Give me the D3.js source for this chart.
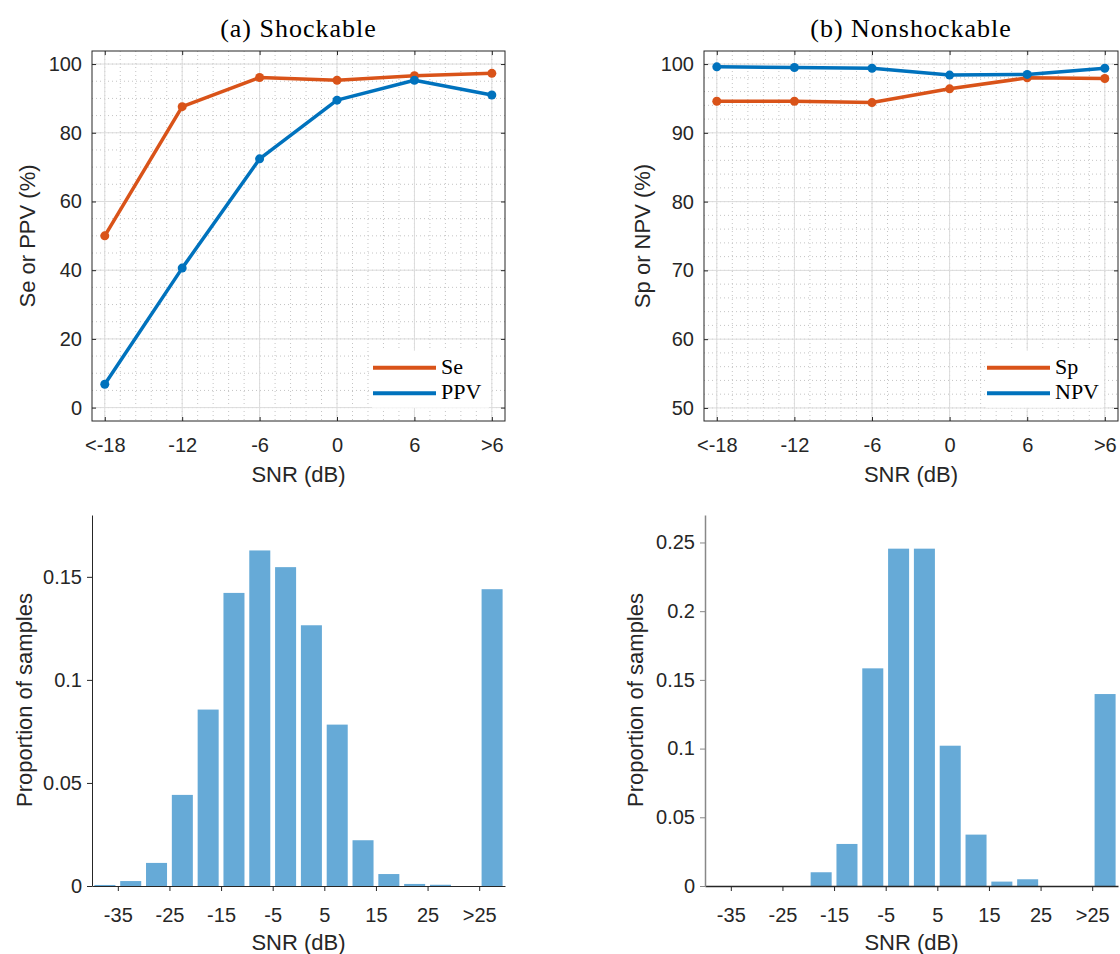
<!DOCTYPE html>
<html>
<head>
<meta charset="utf-8">
<script src="https://cdn.jsdelivr.net/npm/d3@7"></script>
<style>
  body { margin: 0; background: #fff; }
  svg { display: block; }
  .tick text { font-family: "Liberation Sans", Arial, sans-serif; font-size: 20px; fill: #262626; }
  .lbl { font-family: "Liberation Sans", Arial, sans-serif; font-size: 22px; fill: #262626; }
  .ttl, .leg { font-family: "Liberation Serif", "Times New Roman", serif; fill: #000; }
</style>
</head>
<body>
<svg width="1120" height="954"></svg>
<script>
// top row: performance vs SNR
const snrCats = ['<-18', '-12', '-6', '0', '6', '>6'];
const seVals = [50.0, 87.6, 96.1, 95.3, 96.6, 97.3];
const ppvVals = [6.8, 40.6, 72.4, 89.5, 95.3, 91.0];
const spVals = [94.6, 94.6, 94.4, 96.4, 98.0, 97.9];
const npvVals = [99.6, 99.5, 99.4, 98.4, 98.5, 99.4];

// bottom row: histograms (5 dB bins, left edges)
const binEdges = [-40, -35, -30, -25, -20, -15, -10, -5, 0, 5, 10, 15, 20, 25, 30, 35];
const shockProp = [0.0005, 0.0024, 0.0112, 0.0442, 0.0856, 0.1422, 0.1628, 0.1547, 0.1265, 0.0783, 0.0222, 0.0058, 0.0010, 0.0006, 0, 0.1440];
const nonshockProp = [0, 0, 0, 0, 0.0100, 0.0306, 0.1584, 0.2455, 0.2455, 0.1021, 0.0374, 0.0032, 0.0049, 0, 0, 0.1397];
const histTicks = [-35, -25, -15, -5, 5, 15, 25, 35];
const histTickLabels = ['-35', '-25', '-15', '-5', '5', '15', '25', '>25'];

const orange = '#D95319', blue = '#0072BD', barFill = '#66AAD7', ink = '#262626';
const svg = d3.select('svg');

const styleAxis = (g, col) => {
    g.select('.domain').attr('stroke', col || ink).attr('stroke-width', 1);
    g.selectAll('.tick line').attr('stroke', col || ink);
    g.selectAll('.tick text').attr('fill', ink);
};

const drawLinePanel = (o) => {
    const x = d3.scaleLinear().domain([-0.165, 5.17]).range([o.left, o.right]);
    const y = d3.scaleLinear().domain(o.yDomain).range([o.bottom, o.top]);
    const g = svg.append('g');

    // minor grid
    const xMinor = d3.range(0, 5.2, 0.2).filter(v => v > x.domain()[0] && v < x.domain()[1]);
    const yMinor = d3.range(o.yMinorStart, o.yDomain[1], o.yMinorStep);
    g.selectAll('.mgx').data(xMinor).enter().append('line')
        .attr('x1', d => x(d)).attr('x2', d => x(d)).attr('y1', o.top).attr('y2', o.bottom)
        .attr('stroke', '#c4c4c4').attr('stroke-dasharray', '1,3');
    g.selectAll('.mgy').data(yMinor).enter().append('line')
        .attr('y1', d => y(d)).attr('y2', d => y(d)).attr('x1', o.left).attr('x2', o.right)
        .attr('stroke', '#c4c4c4').attr('stroke-dasharray', '1,3');
    // major grid
    g.selectAll('.gx').data(d3.range(6)).enter().append('line')
        .attr('x1', d => x(d)).attr('x2', d => x(d)).attr('y1', o.top).attr('y2', o.bottom)
        .attr('stroke', '#dcdcdc');
    g.selectAll('.gy').data(o.yTicks).enter().append('line')
        .attr('y1', d => y(d)).attr('y2', d => y(d)).attr('x1', o.left).attr('x2', o.right)
        .attr('stroke', '#dcdcdc');

    // axes, ticks pointing in, box on
    const xi = d3.range(6);
    g.append('g').attr('transform', `translate(0,${o.bottom})`)
        .call(d3.axisBottom(x).tickValues(xi).tickFormat(i => snrCats[i]).tickSizeInner(-4).tickSizeOuter(0).tickPadding(17))
        .call(a => styleAxis(a));
    g.append('g').attr('transform', `translate(0,${o.top})`)
        .call(d3.axisTop(x).tickValues(xi).tickFormat('').tickSizeInner(-4).tickSizeOuter(0))
        .call(a => styleAxis(a));
    g.append('g').attr('transform', `translate(${o.left},0)`)
        .call(d3.axisLeft(y).tickValues(o.yTicks).tickFormat(d3.format('d')).tickSizeInner(-4).tickSizeOuter(0).tickPadding(10))
        .call(a => styleAxis(a));
    g.append('g').attr('transform', `translate(${o.right},0)`)
        .call(d3.axisRight(y).tickValues(o.yTicks).tickFormat('').tickSizeInner(-4).tickSizeOuter(0))
        .call(a => styleAxis(a));
    g.selectAll('.domain').attr('d', null);
    g.append('rect').attr('x', o.left).attr('y', o.top)
        .attr('width', o.right - o.left).attr('height', o.bottom - o.top)
        .attr('fill', 'none').attr('stroke', ink);

    // legend background (drawn under the series)
    g.append('rect').attr('x', o.legX - 1).attr('y', o.legY - 17)
        .attr('width', 117).attr('height', 57).attr('fill', '#fff');

    // series
    const line = d3.line().x((d, i) => x(i)).y(d => y(d));
    o.series.forEach(s => {
        g.append('path').datum(s.vals).attr('d', line)
            .attr('fill', 'none').attr('stroke', s.color).attr('stroke-width', 3.5).attr('stroke-linejoin', 'round');
        g.selectAll(null).data(s.vals).enter().append('circle')
            .attr('cx', (d, i) => x(i)).attr('cy', d => y(d)).attr('r', 4.5).attr('fill', s.color);
    });

    // legend
    o.series.forEach((s, k) => {
        const ly = o.legY + k * 25.6;
        g.append('line').attr('x1', o.legX).attr('x2', o.legX + 63).attr('y1', ly).attr('y2', ly)
            .attr('stroke', s.color).attr('stroke-width', 4);
        g.append('text').attr('class', 'leg').attr('x', o.legX + 68).attr('y', ly + 6)
            .attr('font-size', 22).text(s.name);
    });

    const cx = (o.left + o.right) / 2;
    g.append('text').attr('class', 'ttl').attr('x', cx).attr('y', 37)
        .attr('text-anchor', 'middle').attr('font-size', 26).attr('letter-spacing', 1).text(o.title);
    g.append('text').attr('class', 'lbl').attr('x', cx).attr('y', 482)
        .attr('text-anchor', 'middle').text('SNR (dB)');
    g.append('text').attr('class', 'lbl').attr('transform', `translate(${o.yLabX},236) rotate(-90)`)
        .attr('text-anchor', 'middle').text(o.yLabel);
};

const drawHistPanel = (o) => {
    const x = d3.scaleLinear().domain([-40, 40]).range([o.left, o.right]);
    const y = d3.scaleLinear().domain([0, o.yMax]).range([886, 515]);
    const g = svg.append('g');
    const gap = 2.4;

    g.selectAll('rect').data(o.vals).enter().append('rect')
        .attr('x', (d, i) => x(binEdges[i]) + gap)
        .attr('width', (d, i) => x(binEdges[i] + 5) - x(binEdges[i]) - 2 * gap)
        .attr('y', d => y(d)).attr('height', d => y(0) - y(d))
        .attr('fill', barFill);

    g.append('g').attr('transform', 'translate(0,886)')
        .call(d3.axisBottom(x).tickValues(histTicks).tickFormat((d, i) => histTickLabels[i]).tickSizeInner(5).tickSizeOuter(0).tickPadding(17))
        .call(a => styleAxis(a));
    g.append('g').attr('transform', `translate(${o.left},0)`)
        .call(d3.axisLeft(y).tickValues(o.yTicks).tickFormat(d3.format('~g')).tickSizeInner(5).tickSizeOuter(0).tickPadding(5))
        .call(a => styleAxis(a, o.yAxisColor));
    g.selectAll('.domain').attr('stroke-width', o.yAxisColor ? 1.5 : 1);

    const cx = (o.left + o.right) / 2;
    g.append('text').attr('class', 'lbl').attr('x', cx).attr('y', 950)
        .attr('text-anchor', 'middle').text('SNR (dB)');
    g.append('text').attr('class', 'lbl').attr('transform', `translate(${o.yLabX},700) rotate(-90)`)
        .attr('text-anchor', 'middle').text('Proportion of samples');
};

drawLinePanel({
    left: 92, right: 505, top: 51, bottom: 421,
    yDomain: [-3.9, 103.8], yTicks: [0, 20, 40, 60, 80, 100], yMinorStart: -0, yMinorStep: 5,
    series: [{ name: 'Se', vals: seVals, color: orange }, { name: 'PPV', vals: ppvVals, color: blue }],
    legX: 373, legY: 367.7,
    title: '(a) Shockable', yLabel: 'Se or PPV (%)', yLabX: 35
});
drawLinePanel({
    left: 704, right: 1118, top: 51, bottom: 421,
    yDomain: [48.1, 101.9], yTicks: [50, 60, 70, 80, 90, 100], yMinorStart: 50, yMinorStep: 2,
    series: [{ name: 'Sp', vals: spVals, color: orange }, { name: 'NPV', vals: npvVals, color: blue }],
    legX: 987, legY: 367.7,
    title: '(b) Nonshockable', yLabel: 'Sp or NPV (%)', yLabX: 650
});
drawHistPanel({
    left: 92, right: 505, yMax: 0.18, yTicks: [0, 0.05, 0.1, 0.15],
    vals: shockProp, yLabX: 32
});
drawHistPanel({
    left: 705, right: 1118, yMax: 0.27, yTicks: [0, 0.05, 0.1, 0.15, 0.2, 0.25],
    vals: nonshockProp, yLabX: 643, yAxisColor: '#888888'
});
</script>
</body>
</html>
